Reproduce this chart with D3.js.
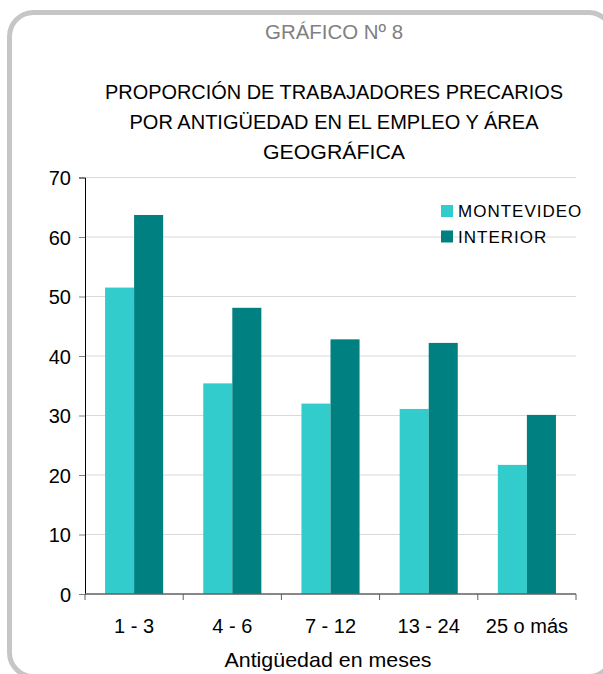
<!DOCTYPE html>
<html>
<head>
<meta charset="utf-8">
<script src="https://cdn.jsdelivr.net/npm/d3@7"></script>
<style>
  body { margin: 0; background: #fff; font-family: 'Liberation Sans', Arial, Helvetica, sans-serif; }
  svg text { font-family: 'Liberation Sans', Arial, Helvetica, sans-serif !important; }
</style>
</head>
<body>
<div id="chart"></div>
<script>
const categories = ["1 - 3", "4 - 6", "7 - 12", "13 - 24", "25 o más"];
const series = ["MONTEVIDEO", "INTERIOR"];
const montevideo = [51.5, 35.4, 32.0, 31.1, 21.7];
const interior = [63.7, 48.1, 42.8, 42.2, 30.1];
const yTicks = [0, 10, 20, 30, 40, 50, 60, 70];
const titleLines = ["PROPORCIÓN DE TRABAJADORES PRECARIOS", "POR ANTIGÜEDAD EN EL EMPLEO Y ÁREA", "GEOGRÁFICA"];

const width = 603;
const height = 674;
const colours = { "MONTEVIDEO": "#33cccc", "INTERIOR": "#008080" };

const svg = d3.select("#chart")
    .append("svg")
    .attr("width", width)
    .attr("height", height)
    .attr("font-family", "'Liberation Sans', Arial, sans-serif");

// frame
svg.append("rect")
   .attr("x", 9.5).attr("y", 12.5)
   .attr("width", 603).attr("height", 664)
   .attr("rx", 24)
   .attr("fill", "none")
   .attr("stroke", "#c6c6c6")
   .attr("stroke-width", 5);

svg.append("text")
   .attr("x", 334).attr("y", 38.5)
   .attr("text-anchor", "middle")
   .attr("fill", "#808080")
   .style("font-size", "20px")
   .attr("textLength", 138)
   .attr("lengthAdjust", "spacingAndGlyphs")
   .text("GRÁFICO Nº 8");

const titleWidths = [458, 409, 142];
svg.selectAll(".title")
   .data(titleLines)
   .enter()
   .append("text")
   .attr("class", "title")
   .attr("x", 334)
   .attr("y", (d, i) => 98.5 + i * 30)
   .attr("text-anchor", "middle")
   .attr("textLength", (d, i) => titleWidths[i])
   .attr("lengthAdjust", "spacingAndGlyphs")
   .style("font-size", "21px")
   .attr("fill", "#000")
   .text(d => d);

const x = d3.scaleBand().domain(categories).range([85, 576]);
const xs = d3.scaleBand().domain(series).range([0, x.bandwidth()]).paddingOuter(0.69);
const y = d3.scaleLinear().domain([0, 70]).range([594, 177.5]);

// gridlines
svg.append("g")
   .selectAll("line")
   .data(yTicks.slice(1))
   .enter()
   .append("line")
   .attr("x1", 85).attr("x2", 576)
   .attr("y1", d => y(d)).attr("y2", d => y(d))
   .attr("stroke", "#d9d9d9")
   .attr("stroke-width", 1);

const rows = categories.map((c, i) => ({ cat: c, values: [
  { key: "MONTEVIDEO", value: montevideo[i] },
  { key: "INTERIOR", value: interior[i] }
]}));

svg.append("g")
   .selectAll("g")
   .data(rows)
   .enter()
   .append("g")
   .attr("transform", d => `translate(${x(d.cat)},0)`)
   .selectAll("rect")
   .data(d => d.values)
   .enter()
   .append("rect")
   .attr("x", d => xs(d.key))
   .attr("width", xs.bandwidth())
   .attr("y", d => y(d.value))
   .attr("height", d => y(0) - y(d.value))
   .attr("fill", d => colours[d.key]);

// y axis
const yAxis = svg.append("g")
   .attr("transform", "translate(85,0)")
   .call(d3.axisLeft(y).tickValues(yTicks).tickSize(6).tickPadding(8));
yAxis.attr("font-family", null);
yAxis.select(".domain").attr("stroke", "#000");
yAxis.selectAll(".tick line").attr("stroke", "#808080");
yAxis.selectAll("text").style("font-size", "20px").attr("fill", "#000").attr("dy", "0.36em");

// x axis
const xAxis = svg.append("g")
   .attr("transform", "translate(0,594)");
xAxis.append("line")
   .attr("x1", 85).attr("x2", 576)
   .attr("stroke", "#606060").attr("stroke-width", 1.5);
xAxis.selectAll(".xtick")
   .data(categories.concat(["end"]))
   .enter()
   .append("line")
   .attr("class", "xtick")
   .attr("x1", (d, i) => i < categories.length ? x(d) : x.range()[1])
   .attr("x2", (d, i) => i < categories.length ? x(d) : x.range()[1])
   .attr("y1", 0).attr("y2", 6)
   .attr("stroke", "#606060");
xAxis.selectAll(".xlabel")
   .data(categories)
   .enter()
   .append("text")
   .attr("class", "xlabel")
   .attr("x", d => x(d) + x.bandwidth() / 2)
   .attr("y", 39)
   .attr("text-anchor", "middle")
   .style("font-size", "20px")
   .text(d => d);

svg.append("text")
   .attr("x", 328).attr("y", 667)
   .attr("text-anchor", "middle")
   .style("font-size", "21px")
   .attr("textLength", 207)
   .attr("lengthAdjust", "spacingAndGlyphs")
   .text("Antigüedad en meses");

// legend
const legend = svg.append("g").attr("transform", "translate(441,205)");
const items = legend.selectAll("g")
   .data(series)
   .enter()
   .append("g")
   .attr("transform", (d, i) => `translate(0, ${i * 25.5})`);
items.append("rect")
   .attr("width", 12).attr("height", 12)
   .attr("fill", d => colours[d]);
items.append("text")
   .attr("x", 17).attr("y", 12)
   .style("font-size", "17px")
   .style("letter-spacing", "1px")
   .text(d => d);
</script>
</body>
</html>
